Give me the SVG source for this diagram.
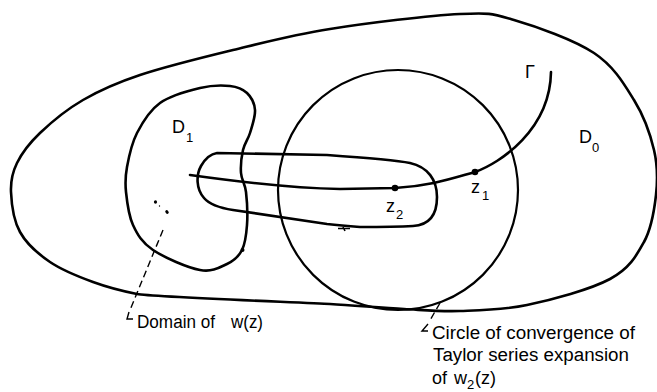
<svg xmlns="http://www.w3.org/2000/svg" width="657" height="392" viewBox="0 0 657 392">
<style>
.curve{fill:none;stroke:#000;stroke-width:2.6;stroke-linejoin:round;stroke-linecap:round}
.thin{fill:none;stroke:#000;stroke-width:2.2}
.lead{fill:none;stroke:#000;stroke-width:1.4;stroke-dasharray:7 4}
.tick{fill:none;stroke:#000;stroke-width:1.4}
.lbl{font-family:"Liberation Sans",Arial,sans-serif;font-size:18px;fill:#000}
.sub{font-family:"Liberation Sans",Arial,sans-serif;font-size:13px;fill:#000}
</style>
<rect width="657" height="392" fill="#fff"/>
<g id="D0">
<path class="curve" d="M11,192 C10.5,180.5 12.2,172.8 17,163 C21.8,153.2 29,143.5 40,133 C51,122.5 66.3,109.7 83,100 C99.7,90.3 115,83.3 140,75 C165,66.7 201.3,57.7 233,50 C264.7,42.3 292.2,35 330,29 C367.8,23 429.3,15.5 460,14 C490.7,12.5 491.7,13.5 514,20 C536.3,26.5 574,39.7 594,53 C614,66.3 624,83.8 634,100 C644,116.2 650.3,134.2 654,150 C657.7,165.8 657.7,179.7 656,195 C654.3,210.3 651.7,228 644,242 C636.3,256 629.5,268.5 610,279 C590.5,289.5 552,299.7 527,305 C502,310.3 480.5,310.3 460,311 C439.5,311.7 425.7,310.2 404,309 C382.3,307.8 355,305.5 330,304 C305,302.5 152,297 137,294 C122,291 107.5,287.3 93,282 C78.5,276.7 62.2,270.3 50,262 C37.8,253.7 26.5,243.7 20,232 C13.5,220.3 11.5,203.5 11,192 Z"/>
<text class="lbl" x="579" y="143">D</text><text class="sub" x="592" y="152">0</text>
</g>
<g id="D1">
<path class="curve" d="M230,86 C237.8,86.8 242.8,89 247,93 C251.2,97 254.5,103.3 255,110 C255.5,116.7 252,126.3 250,133 C248,139.7 244.5,143.3 243,150 C241.5,156.7 240.5,166 241,173 C241.5,180 245,183.3 246,192 C247,200.7 247.7,215.3 247,225 C246.3,234.7 245.3,243.5 242,250 C238.7,256.5 234,260.7 227,264 C220,267.3 212.3,272.3 200,270 C187.7,267.7 164.2,257.5 153,250 C141.8,242.5 137.5,234.7 133,225 C128.5,215.3 127,201.7 126,192 C125,182.3 125.2,176.8 127,167 C128.8,157.2 131.5,143.7 137,133 C142.5,122.3 149.5,110.5 160,103 C170.5,95.5 188.3,90.8 200,88 C211.7,85.2 222.2,85.2 230,86 Z"/>
<circle cx="242.5" cy="250" r="2"/>
<ellipse cx="155.5" cy="202" rx="1.6" ry="1.8"/>
<circle cx="159.5" cy="206" r="0.7"/>
<ellipse cx="167" cy="212" rx="1.5" ry="2" transform="rotate(-40 167 212)"/>
<text class="lbl" x="172" y="133">D</text><text class="sub" x="186" y="142">1</text>
</g>
<g id="circle">
<circle class="thin" cx="398" cy="190" r="120"/>
</g>
<g id="contour">
<path class="curve" d="M217,153 L327,155 C370,158 395,160 410,163 C428,167 437,180 437,197 C437,214 430,225 413,226 C395,227 375,227 360,227 C345,226 335,225 327,224 L233,210 C220,208 210,205 204,198 C196,189 196,175 201,166 C205,159 210,154 217,153 Z"/>
<path d="M338,228.5 L350,228.5 M343,227 L345,231" stroke="#000" stroke-width="1.6"/>
</g>
<g id="gamma">
<path class="curve" d="M190,175 C240,182 290,188 340,189 L395,188 C430,186 450,179 475,172 C500,163 550,130 551,72"/>
<circle cx="395" cy="188" r="3.3"/>
<circle cx="475" cy="172" r="3.3"/>
<text class="lbl" x="525" y="78">Γ</text>
<text class="lbl" x="471" y="193" font-size="19">z</text><text class="sub" x="482" y="200">1</text>
<text class="lbl" x="386" y="212" font-size="19">z</text><text class="sub" x="396" y="219">2</text>
</g>
<g id="connectors">
<path class="lead" d="M163,230 L130,310"/>
<path class="tick" d="M129,312 L127,319 L133,319"/>
<path class="lead" d="M440,303 L429,322"/>
<path class="tick" d="M428,324 L422,331 L428,331"/>
</g>
<g id="labels">
<text class="lbl" x="137" y="328" textLength="78" lengthAdjust="spacingAndGlyphs">Domain of</text>
<text class="lbl" x="231" y="328" textLength="32" lengthAdjust="spacingAndGlyphs">w(z)</text>
<text class="lbl" x="432" y="339" textLength="203" lengthAdjust="spacingAndGlyphs">Circle of convergence of</text>
<text class="lbl" x="433" y="361" textLength="196" lengthAdjust="spacingAndGlyphs">Taylor series expansion</text>
<text class="lbl" x="432" y="384">of</text>
<text class="lbl" x="454" y="384">w</text><text class="sub" x="467" y="389" font-size="12">2</text><text class="lbl" x="475" y="384">(z)</text>
</g>
</svg>
